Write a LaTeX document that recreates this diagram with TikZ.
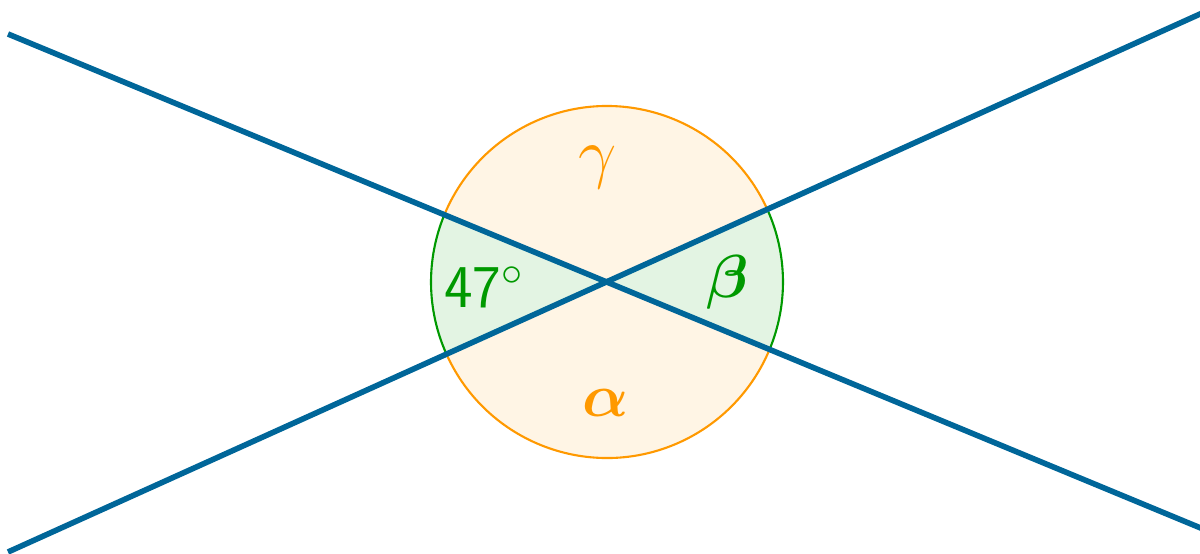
\documentclass[tikz,border=0pt]{standalone}
\usepackage{amsmath}
\usepackage{tikz}
\usetikzlibrary{calc}
\definecolor{lineblue}{RGB}{0,102,153}
\definecolor{angorange}{RGB}{255,153,0}
\definecolor{anggreen}{RGB}{0,153,0}

\begin{document}
\begin{tikzpicture}[
  ray/.style={line width=1.6pt, lineblue},
  greensec/.style={fill=anggreen!11},
  orangesec/.style={fill=angorange!10},
  greenarc/.style={draw=anggreen, line width=0.6pt},
  orangearc/.style={draw=angorange, line width=0.6pt},
  lab/.style={font=\LARGE, inner sep=0pt}]
\useasboundingbox (0,0) rectangle (12,5.53);
\def\rad{1.76}
\coordinate (O) at (6.07,2.71);
% sectors
\fill[orangesec] (O) -- ++(24.3:\rad) arc[start angle=24.3, end angle=157.5, radius=\rad] -- cycle;
\fill[orangesec] (O) -- ++(204.3:\rad) arc[start angle=204.3, end angle=337.5, radius=\rad] -- cycle;
\fill[greensec] (O) -- ++(157.5:\rad) arc[start angle=157.5, end angle=204.3, radius=\rad] -- cycle;
\fill[greensec] (O) -- ++(-22.5:\rad) arc[start angle=-22.5, end angle=24.3, radius=\rad] -- cycle;
% circle outline
\draw[orangearc] ($(O)+(24.3:\rad)$) arc[start angle=24.3, end angle=157.5, radius=\rad];
\draw[orangearc] ($(O)+(204.3:\rad)$) arc[start angle=204.3, end angle=337.5, radius=\rad];
\draw[greenarc] ($(O)+(157.5:\rad)$) arc[start angle=157.5, end angle=204.3, radius=\rad];
\draw[greenarc] ($(O)+(-22.5:\rad)$) arc[start angle=-22.5, end angle=24.3, radius=\rad];
% the two lines
\coordinate (a1) at (0.08,5.19);
\coordinate (a2) at (12.2,0.17);
\coordinate (b1) at (0.08,0.01);
\coordinate (b2) at (12.2,5.48);
\draw[ray] (a1) -- (a2);
\draw[ray] (b1) -- (b2);
% labels
\node[lab, anggreen] (given) at (4.84,2.66) {\sffamily 47$^\circ$};
\node[lab, anggreen] (beta) at (7.28,2.71) {$\boldsymbol{\beta}$};
\node[lab, angorange, scale=1.12] (gamma) at (5.98,3.86) {$\gamma$};
\node[lab, angorange] (alpha) at (6.06,1.50) {$\boldsymbol{\alpha}$};
\end{tikzpicture}
\end{document}
